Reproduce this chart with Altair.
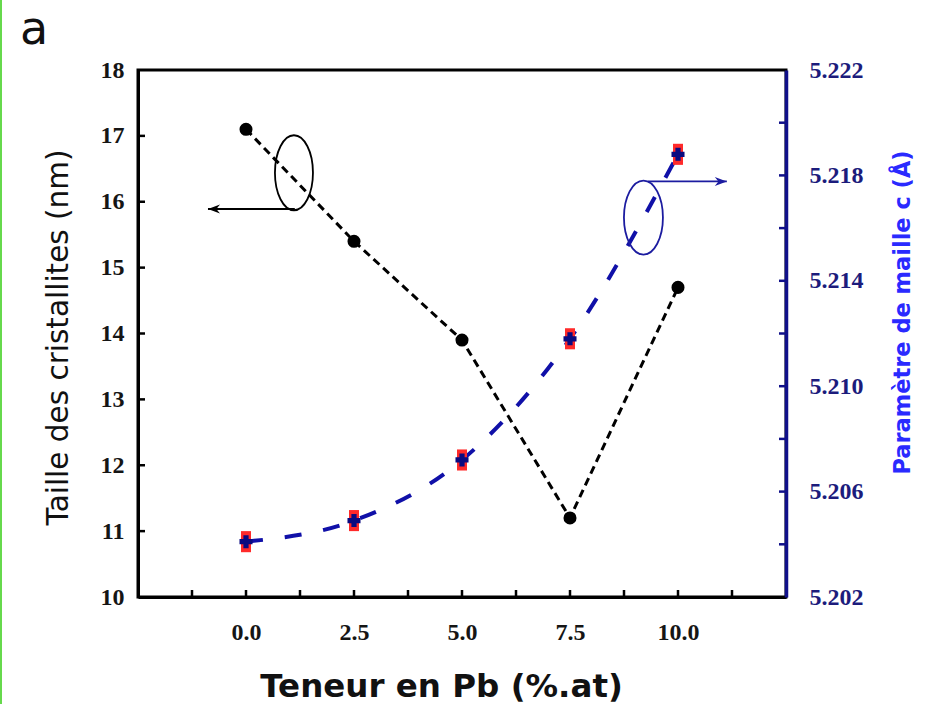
import altair as alt
import pandas as pd

# ---------------- data ----------------
pb = [0.0, 2.5, 5.0, 7.5, 10.0]
taille = [17.1, 15.4, 13.9, 11.2, 14.7]
param_c = [5.2041, 5.2049, 5.2072, 5.2118, 5.2188]
err_c = [0.0004, 0.0004, 0.0004, 0.0004, 0.0004]

x_label_values = [0.0, 2.5, 5.0, 7.5, 10.0]
x_tick_values = [-1.25, 0.0, 1.25, 2.5, 3.75, 5.0, 6.25, 7.5, 8.75, 10.0, 11.25]
left_label_values = [10, 11, 12, 13, 14, 15, 16, 17, 18]
left_tick_values = [11, 12, 13, 14, 15, 16, 17]
right_label_values = [5.202, 5.206, 5.210, 5.214, 5.218, 5.222]
right_tick_values = [5.204, 5.206, 5.208, 5.210, 5.212, 5.214, 5.216, 5.218, 5.220]

# annotation anchors (data units)
left_ellipse_x = [1.11]
left_ellipse_y = [16.44]
left_arrow_x1 = [1.13]
left_arrow_x2 = [-0.88]
left_arrow_y = [15.89]
right_ellipse_x = [9.20]
right_ellipse_y = [5.2164]
right_arrow_x1 = [9.305]
right_arrow_x2 = [11.13]
right_arrow_y = [5.21777]

panel_letter = ["a"]

# ---------------- styles ----------------
W, H = 648, 527
NAVY = "#10108a"
BLUE_TITLE = "#2a2aff"
SERIF = "Liberation Serif"
SANS = "DejaVu Sans"

df_black = pd.DataFrame({"pb": pb, "taille": taille})
df_blue = pd.DataFrame({
    "pb": pb, "c": param_c,
    "lo": [v - e for v, e in zip(param_c, err_c)],
    "hi": [v + e for v, e in zip(param_c, err_c)],
})

xscale = alt.Scale(domain=[-2.5, 12.5], nice=False, zero=False)
lscale = alt.Scale(domain=[10, 18], nice=False, zero=False)
rscale = alt.Scale(domain=[5.202, 5.222], nice=False, zero=False)

x_axis = alt.Axis(
    values=x_label_values, format=".1f", ticks=False, grid=False,
    domainColor="black", domainWidth=3,
    labelFont=SERIF, labelFontWeight="bold", labelFontSize=24, labelColor="#151515",
    labelPadding=23,
    title="Teneur en Pb (%.at)", titleFont=SANS, titleFontWeight="bold",
    titleFontSize=32.5, titleColor="#111111",
    titleX=303, titleY=89, titleBaseline="middle", titleAlign="center",
)
yl_axis = alt.Axis(
    values=left_label_values, format="d", ticks=False, grid=False,
    domainColor="black", domainWidth=3,
    labelFont=SERIF, labelFontWeight="bold", labelFontSize=24, labelColor="#151515",
    labelPadding=14,
    title="Taille des cristallites (nm)", titleFont=SANS, titleFontWeight="normal",
    titleFontSize=29.5, titleColor="#111111",
    titleAngle=270, titleX=-80, titleY=267, titleBaseline="middle", titleAlign="center",
)
yr_axis = alt.Axis(
    orient="right", values=right_label_values, format=".3f", ticks=False, grid=False,
    domainColor=NAVY, domainWidth=3.5,
    labelFont=SERIF, labelFontWeight="bold", labelFontSize=24, labelColor="#1c1c7c",
    labelPadding=23,
    title="Paramètre de maille c (Å)", titleFont=SANS, titleFontWeight="bold",
    titleFontSize=22.5, titleColor=BLUE_TITLE,
    titleAngle=270, titleX=116, titleY=242, titleBaseline="middle", titleAlign="center",
)

def X(field):
    return alt.X(field, type="quantitative", scale=xscale, axis=x_axis)

def YL(field):
    return alt.Y(field, type="quantitative", scale=lscale, axis=yl_axis)

def YR(field):
    return alt.Y(field, type="quantitative", scale=rscale, axis=yr_axis)

ellipse_left_path = "M0,-1A0.507,1 0 1,1 0,1A0.507,1 0 1,1 0,-1Z"
ellipse_right_path = "M0,-1A0.527,1 0 1,1 0,1A0.527,1 0 1,1 0,-1Z"
head_left_path = "M0,0L2,-0.75L1.4,0L2,0.75Z"
head_right_path = "M0,0L-2,-0.75L-1.4,0L-2,0.75Z"

# ---------------- left (black) group ----------------
black_line = alt.Chart(df_black).mark_line(
    color="black", strokeWidth=3, strokeDash=[8, 5]
).encode(x=X("pb"), y=YL("taille"))

black_pts = alt.Chart(df_black).mark_point(
    shape="circle", filled=True, color="black", size=170, opacity=1
).encode(x=X("pb"), y=YL("taille"))

df_le = pd.DataFrame({"ex": left_ellipse_x, "ey": left_ellipse_y})
left_ellipse = alt.Chart(df_le).mark_point(
    shape=ellipse_left_path, filled=False, color="black", strokeWidth=1.8,
    size=75 * 75, opacity=1
).encode(x=X("ex"), y=YL("ey"))

df_la = pd.DataFrame({"ax1": left_arrow_x1, "ax2": left_arrow_x2, "ay": left_arrow_y})
left_arrow = alt.Chart(df_la).mark_rule(color="black", strokeWidth=1.8).encode(
    x=X("ax1"), x2="ax2", y=YL("ay"))
left_head = alt.Chart(df_la).mark_point(
    shape=head_left_path, filled=True, color="black", size=144, opacity=1
).encode(x=X("ax2"), y=YL("ay"))

df_lt = pd.DataFrame({"t": left_tick_values})
left_ticks = alt.Chart(df_lt).mark_rule(color="black", strokeWidth=2.5).encode(
    y=YL("t"), x=alt.value(0), x2=alt.value(7))

df_bt = pd.DataFrame({"bt": x_tick_values})
bottom_ticks = alt.Chart(df_bt).mark_rule(color="black", strokeWidth=2.5).encode(
    x=X("bt"), y=alt.value(H), y2=alt.value(H - 7))

df_letter = pd.DataFrame({"s": panel_letter})
letter = alt.Chart(df_letter).mark_text(
    font=SANS, fontSize=46, color="#111111", align="left", baseline="alphabetic"
).encode(text="s:N", x=alt.value(-118), y=alt.value(-26))

green_edge = alt.Chart(df_letter).mark_rule(color="#66d94c", strokeWidth=2).encode(
    x=alt.value(-137), y=alt.value(-70), y2=alt.value(H + 107))

left_group = alt.layer(
    green_edge, letter, left_ticks, bottom_ticks, black_line, black_pts,
    left_ellipse, left_arrow, left_head
)

# ---------------- right (blue) group ----------------
blue_line = alt.Chart(df_blue).mark_line(
    color="#1010a8", strokeWidth=4, strokeDash=[17, 22], interpolate="monotone"
).encode(x=X("pb"), y=YR("c"))

red_err = alt.Chart(df_blue).mark_rule(color="#ff2a2a", strokeWidth=10).encode(
    x=X("pb"), y=YR("lo"), y2="hi")

blue_pts = alt.Chart(df_blue).mark_point(
    shape="cross", filled=True, color="#0a0a80", size=170, opacity=1
).encode(x=X("pb"), y=YR("c"))

df_re = pd.DataFrame({"ex": right_ellipse_x, "ey": right_ellipse_y})
right_ellipse = alt.Chart(df_re).mark_point(
    shape=ellipse_right_path, filled=False, color="#1c1ca0", strokeWidth=1.8,
    size=74 * 74, opacity=1
).encode(x=X("ex"), y=YR("ey"))

df_ra = pd.DataFrame({"ax1": right_arrow_x1, "ax2": right_arrow_x2, "ay": right_arrow_y})
right_arrow = alt.Chart(df_ra).mark_rule(color="#1c1ca0", strokeWidth=1.8).encode(
    x=X("ax1"), x2="ax2", y=YR("ay"))
right_head = alt.Chart(df_ra).mark_point(
    shape=head_right_path, filled=True, color="#1c1ca0", size=144, opacity=1
).encode(x=X("ax2"), y=YR("ay"))

df_rt = pd.DataFrame({"t": right_tick_values})
right_ticks = alt.Chart(df_rt).mark_rule(color=NAVY, strokeWidth=2.5).encode(
    y=YR("t"), x=alt.value(W), x2=alt.value(W - 7))

right_group = alt.layer(
    right_ticks, blue_line, red_err, blue_pts, right_ellipse, right_arrow, right_head
)

chart = alt.layer(left_group, right_group).resolve_scale(
    y="independent"
).properties(
    width=W, height=H,
    autosize=alt.AutoSizeParams(type="none"),
    padding={"left": 138, "top": 70, "right": 140, "bottom": 107},
    background="white",
).configure_view(
    stroke="black", strokeWidth=3
).configure_axis(grid=False)

chart.save("out.html", embed_options={"renderer": "svg", "actions": False})
